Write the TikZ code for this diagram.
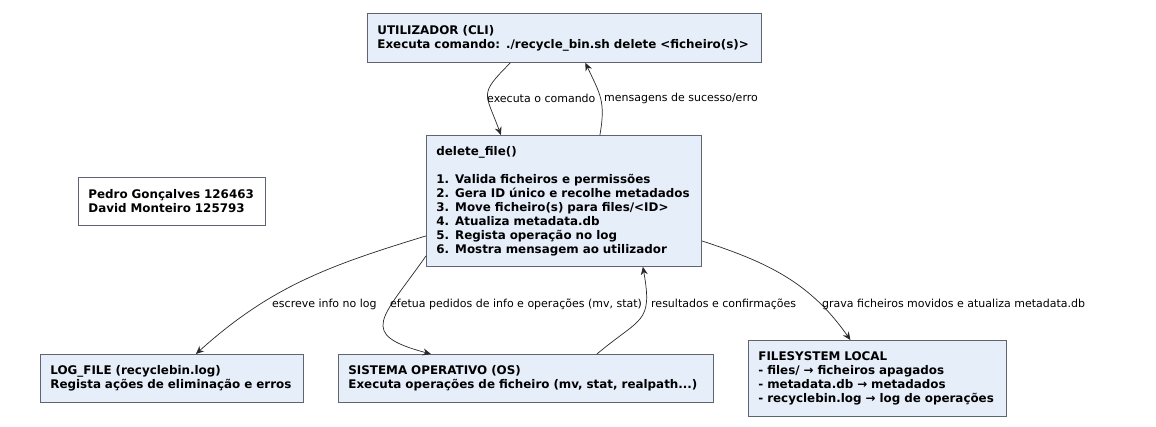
\documentclass[tikz,border=0pt]{standalone}
\usepackage{fontspec}
\setmainfont{DejaVu Sans}
\usetikzlibrary{arrows.meta}
\definecolor{boxfill}{RGB}{230,238,250}
\definecolor{boxline}{RGB}{95,100,112}
\definecolor{linkcol}{RGB}{40,40,40}
\tikzset{
  block/.style={draw=boxline, fill=boxfill, line width=0.8pt, align=left, anchor=north west,
    inner xsep=10pt, inner ysep=0pt, font=\fontsize{11.9}{14}\selectfont\bfseries},
  note/.style={block, fill=white},
  link/.style={draw=linkcol, line width=0.7pt, -{Stealth[length=8pt,width=7pt]}},
  tag/.style={anchor=west, inner sep=0pt, font=\fontsize{11}{13}\selectfont}
}

\begin{document}
\begin{tikzpicture}[x=1pt, y=-1pt]
			%%%%% START %%%%%
			\useasboundingbox (0, 0) rectangle (1156, 426);
			
			\node[block, text width=374pt, minimum height=49pt] (user) at (367, 13)
			  {UTILIZADOR (CLI)\\Executa comando: ./recycle\_bin.sh delete <ficheiro(s)>};
			
			\node[block, text width=255pt, minimum height=131pt] (del) at (426, 135)
			  {delete\_file()\\[14pt]1. Valida ficheiros e permissões\\2. Gera ID único e recolhe metadados\\3. Move ficheiro(s) para files/<ID>\\4. Atualiza metadata.db\\5. Regista operação no log\\6. Mostra mensagem ao utilizador};
			
			\node[note, text width=167pt, minimum height=48pt] (authors) at (78, 177)
			  {Pedro Gonçalves 126463\\David Monteiro 125793};
			
			\node[block, text width=243pt, minimum height=48pt] (logf) at (40, 354)
			  {LOG\_FILE (recyclebin.log)\\Regista ações de eliminação e erros};
			
			\node[block, text width=355pt, minimum height=48pt] (os) at (338, 354)
			  {SISTEMA OPERATIVO (OS)\\Executa operações de ficheiro (mv, stat, realpath...)};
			
			\node[block, text width=238pt, minimum height=76pt] (fs) at (748, 340)
			  {FILESYSTEM LOCAL\\- files/ → ficheiros apagados\\- metadata.db → metadados\\- recyclebin.log → log de operações};
			
			% ligacoes
			\draw[link] ([xshift=-54pt]user.south) to[out=-135, in=110, looseness=1.6] ([xshift=-63pt]del.north);
			\draw[link] ([xshift=36pt]del.north) to[out=80, in=-65, looseness=1.2] ([xshift=21pt]user.south);
			\draw[link] ([yshift=-35pt]del.west) to[out=197, in=42] ([xshift=24pt]logf.north);
			\draw[link] ([yshift=-55pt]del.west) to[out=235, in=165, looseness=2] ([xshift=-95pt]os.north);
			\draw[link] ([xshift=71pt]os.north) to[out=40, in=-80, looseness=1.5] ([xshift=79pt]del.south);
			\draw[link] ([yshift=-40pt]del.east) to[out=-18, in=125] ([xshift=-27pt]fs.north);
			
			% etiquetas
			\node[tag] (t1) at (487, 98) {executa o comando};
			\node[tag] (t2) at (604, 98) {mensagens de sucesso/erro};
			\node[tag] (t3) at (272, 304) {escreve info no log};
			\node[tag] (t4) at (390, 304) {efetua pedidos de info e operações (mv, stat)};
			\node[tag] (t5) at (651, 304) {resultados e confirmações};
			\node[tag] (t6) at (822, 304) {grava ficheiros movidos e atualiza metadata.db};
			
			%%%%% END %%%%%
\end{tikzpicture}
\end{document}
